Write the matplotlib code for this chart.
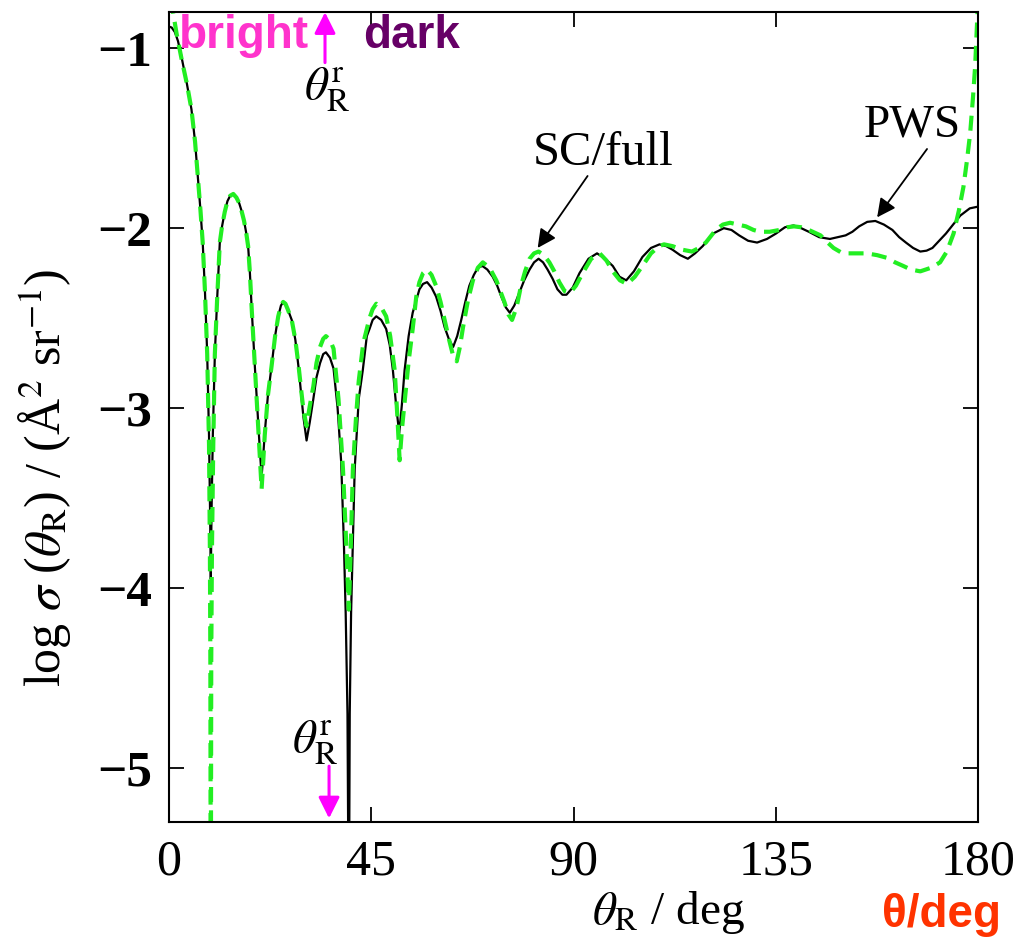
import matplotlib
matplotlib.use("Agg")
import matplotlib.pyplot as plt

plt.rcParams['font.family'] = ['Liberation Serif', 'DejaVu Serif']
plt.rcParams['mathtext.fontset'] = 'stix'

# PWS curve (black, solid)
pws_x = [0.0, 0.6, 1.3, 2.0, 2.8, 4.0, 5.0, 5.8, 6.4, 7.0, 7.5, 8.0, 8.5, 8.9, 9.15, 9.3,
         9.45, 9.75, 10.2, 10.7, 11.3, 11.8, 12.4, 13.0, 13.6, 14.3, 15.0, 15.6, 16.1, 16.7,
         17.2, 17.6, 18.0, 18.4, 19.1, 19.7, 20.2, 20.6, 21.0, 21.3, 22.0, 22.8, 23.6, 24.3,
         24.9, 25.4, 25.9, 26.4, 27.3, 28.1, 28.8, 29.4, 29.9, 30.6, 31.3, 32.1, 32.8, 33.6,
         34.3, 34.9, 35.8, 36.6, 37.5, 38.3, 38.9, 39.3, 39.7, 40.0, 40.2, 40.5, 40.9, 41.3,
         42.2, 43.1, 44.0, 44.6, 45.3, 46.1, 47.2, 48.3, 49.1, 49.8, 50.5, 51.2, 51.8, 52.4,
         53.3, 54.2, 55.7, 56.5, 57.4, 58.4, 59.4, 60.4, 61.3, 62.3, 63.2, 64.1, 65.0, 65.9,
         66.8, 67.8, 68.7, 69.7, 70.8, 72.0, 73.0, 73.9, 74.9, 75.8, 76.8, 77.9, 79.0, 80.2,
         81.2, 82.2, 83.2, 84.2, 85.3, 86.4, 87.5, 88.4, 89.8, 91.3, 93.3, 95.2, 97.0, 98.7,
         100.2, 101.7, 103.4, 105.3, 107.2, 109.1, 110.6, 112.0, 113.7, 115.4, 117.0, 118.7,
         121.0, 123.4, 125.1, 126.8, 128.8, 130.8, 133.0, 135.0, 137.0, 138.9, 140.6, 142.3,
         144.6, 147.0, 148.8, 150.5, 152.0, 153.5, 155.3, 157.1, 159.0, 160.9, 162.4, 163.9,
         165.5, 167.1, 168.5, 169.8, 171.3, 172.8, 174.4, 176.0, 178.1, 180.0]
pws_y = [-0.88, -0.885, -0.91, -0.96, -1.05, -1.20, -1.34, -1.52, -1.71, -1.90, -2.08, -2.35,
         -2.70, -3.15, -3.60, -3.95, -3.60, -3.15, -2.70, -2.40, -2.08, -1.99, -1.91, -1.85,
         -1.82, -1.81, -1.83, -1.86, -1.90, -1.96, -2.03, -2.10, -2.25, -2.45, -2.77, -3.02,
         -3.23, -3.38, -3.25, -3.14, -2.93, -2.77, -2.60, -2.49, -2.43, -2.41, -2.42, -2.45,
         -2.51, -2.62, -2.77, -2.92, -3.05, -3.18, -3.08, -2.95, -2.83, -2.75, -2.70, -2.69,
         -2.72, -2.78, -3.00, -3.30, -3.75, -4.14, -4.70, -6.00, -4.70, -4.14, -3.75, -3.34,
         -2.95, -2.79, -2.60, -2.56, -2.51, -2.49, -2.51, -2.56, -2.65, -2.79, -2.98, -3.14,
         -2.98, -2.79, -2.60, -2.47, -2.34, -2.31, -2.30, -2.33, -2.38, -2.46, -2.55, -2.62,
         -2.66, -2.60, -2.51, -2.41, -2.32, -2.26, -2.22, -2.21, -2.23, -2.27, -2.32, -2.38,
         -2.44, -2.47, -2.43, -2.36, -2.29, -2.23, -2.19, -2.17, -2.19, -2.23, -2.28, -2.34,
         -2.37, -2.37, -2.33, -2.25, -2.17, -2.14, -2.17, -2.21, -2.27, -2.29, -2.24, -2.16,
         -2.11, -2.09, -2.10, -2.12, -2.15, -2.17, -2.14, -2.10, -2.03, -2.00, -2.01, -2.04,
         -2.07, -2.08, -2.06, -2.03, -1.995, -1.985, -2.00, -2.02, -2.05, -2.06, -2.05, -2.04,
         -2.02, -1.99, -1.965, -1.96, -1.98, -2.01, -2.05, -2.08, -2.11, -2.13, -2.125, -2.11,
         -2.07, -2.03, -1.98, -1.93, -1.89, -1.88]

# SC/full curve (green, dashed)
sc_x = [0.0, 0.9, 1.7, 2.4, 2.8, 4.0, 5.0, 5.8, 6.4, 7.0, 7.5, 8.0, 8.5, 8.9, 9.1, 9.2, 9.3,
        9.4, 9.55, 9.85, 10.2, 10.7, 11.3, 11.8, 12.4, 13.0, 13.6, 14.3, 15.0, 15.6, 16.1, 16.7,
        17.2, 17.6, 18.0, 18.4, 19.1, 19.7, 20.2, 20.6, 21.0, 21.3, 22.0, 22.8, 23.6, 24.3,
        24.9, 25.4, 25.9, 26.4, 27.3, 28.1, 28.8, 29.4, 29.9, 30.6, 31.3, 32.1, 32.8, 33.6,
        34.3, 34.9, 35.8, 36.6, 37.7, 38.7, 39.5, 40.0, 40.4, 40.9, 41.6, 42.2, 43.2, 44.6,
        45.3, 46.1, 47.2, 48.3, 49.2, 50.2, 50.8, 51.3, 51.8, 52.4, 53.3, 54.2, 55.0, 55.7,
        56.5, 57.4, 58.4, 59.4, 60.4, 61.3, 62.3, 63.1, 64.0, 64.7, 65.4, 66.5, 67.6, 68.7,
        69.8, 71.3, 72.8, 73.7, 74.6, 75.5, 76.3, 77.3, 78.3, 79.2, 80.2, 81.2, 82.2, 83.4,
        84.6, 85.7, 86.8, 88.0, 89.2, 90.5, 92.0, 93.9, 95.8, 97.3, 98.7, 100.3, 101.9, 103.6,
        105.3, 107.2, 109.0, 110.1, 112.0, 114.2, 116.3, 117.9, 119.4, 121.6, 123.2, 124.8,
        126.5, 128.3, 130.0, 131.5, 133.6, 135.8, 137.5, 139.0, 140.6, 142.3, 144.9, 146.5,
        147.8, 149.5, 150.8, 153.0, 155.2, 157.5, 159.7, 161.5, 163.3, 165.0, 167.1, 169.5,
        171.5, 173.0, 174.5, 175.7, 176.7, 177.5, 178.2, 178.8, 179.3, 179.7, 180.0]
sc_y = [-0.70, -0.80, -0.92, -1.01, -1.06, -1.20, -1.34, -1.52, -1.71, -1.90, -2.08, -2.35,
        -2.70, -3.20, -3.80, -4.40, -6.00, -4.40, -3.80, -3.20, -2.70, -2.40, -2.08, -1.99,
        -1.91, -1.85, -1.82, -1.81, -1.83, -1.86, -1.90, -1.96, -2.03, -2.10, -2.25, -2.45,
        -2.77, -3.05, -3.28, -3.45, -3.28, -3.15, -2.93, -2.77, -2.60, -2.49, -2.43, -2.41,
        -2.42, -2.45, -2.51, -2.62, -2.76, -2.90, -3.01, -3.10, -2.99, -2.88, -2.75, -2.66,
        -2.615, -2.60, -2.62, -2.67, -2.95, -3.34, -3.80, -4.12, -3.80, -3.34, -3.05, -2.85,
        -2.64, -2.50, -2.45, -2.42, -2.44, -2.49, -2.60, -2.79, -3.05, -3.29, -3.12, -2.97,
        -2.74, -2.56, -2.38, -2.30, -2.25, -2.23, -2.26, -2.32, -2.41, -2.51, -2.62, -2.70,
        -2.74, -2.66, -2.55, -2.40, -2.29, -2.22, -2.19, -2.22, -2.29, -2.35, -2.41, -2.48,
        -2.51, -2.44, -2.32, -2.24, -2.17, -2.14, -2.13, -2.15, -2.19, -2.24, -2.30, -2.35,
        -2.36, -2.32, -2.25, -2.17, -2.14, -2.18, -2.24, -2.29, -2.31, -2.27, -2.21, -2.14,
        -2.10, -2.09, -2.10, -2.12, -2.13, -2.11, -2.08, -2.01, -1.98, -1.97, -1.98, -1.99,
        -2.01, -2.02, -2.02, -2.01, -1.995, -1.99, -1.995, -2.01, -2.04, -2.08, -2.11, -2.135,
        -2.14, -2.14, -2.14, -2.15, -2.165, -2.19, -2.21, -2.23, -2.24, -2.22, -2.19, -2.13,
        -2.03, -1.90, -1.77, -1.62, -1.47, -1.28, -1.10, -0.88, -0.70]

x_ticks = [0, 45, 90, 135, 180]
y_ticks = [-5, -4, -3, -2, -1]

fig = plt.figure(figsize=(10.18, 9.41), dpi=100)
ax = fig.add_axes([0.166, 0.1265, 0.795, 0.8605])

ax.plot(pws_x, pws_y, color='black', lw=1.6, solid_joinstyle='round')
ax.plot(sc_x, sc_y, color='#22ee22', lw=3.0, dashes=(3.6, 2.0))

ax.set_xlim(0, 180)
ax.set_ylim(-5.30, -0.80)
ax.set_xticks(x_ticks)
ax.set_yticks(y_ticks)
ax.set_yticklabels(['\u2212%d' % abs(v) for v in y_ticks], fontweight='bold', fontsize=37)
ax.tick_params(direction='in', length=11, width=1.3, top=True, right=True, pad=12)
ax.tick_params(axis='x', labelsize=36)
for s in ax.spines.values():
    s.set_linewidth(1.5)

ax.set_xlabel(r'$\theta_{\rm R}$ / deg', fontsize=34)
ax.xaxis.set_label_coords(0.617, -0.083)
ax.set_ylabel(r'log $\sigma$ ($\theta_{\rm R}$) / (Å$^2$ sr$^{-1}$)', fontsize=36)
ax.yaxis.set_label_coords(-0.118, 0.425)

# curve labels with arrows
arrow_kw = dict(arrowstyle='-|>', color='black', lw=1.3, mutation_scale=28,
                shrinkA=0, shrinkB=0)
ax.text(96.6, -1.58, 'SC/full', fontsize=35, ha='center', va='center')
ax.annotate('', xy=(82.0, -2.11), xytext=(93.1, -1.71), arrowprops=arrow_kw)
ax.text(165.4, -1.43, 'PWS', fontsize=34, ha='center', va='center')
ax.annotate('', xy=(157.5, -1.94), xytext=(168.6, -1.56), arrowprops=arrow_kw)

# rainbow angle markers
ax.annotate('', xy=(34.7, -0.80), xytext=(34.7, -1.08),
            arrowprops=dict(arrowstyle='-|>', color='#ff00ff', lw=2.2,
                            mutation_scale=32, shrinkA=0, shrinkB=0),
            annotation_clip=False)
ax.text(35.3, -1.23, r'$\theta_{\rm R}^{\rm r}$', fontsize=34, ha='center', va='center')
ax.annotate('', xy=(35.6, -5.28), xytext=(35.6, -4.99),
            arrowprops=dict(arrowstyle='-|>', color='#ff00ff', lw=2.2,
                            mutation_scale=32, shrinkA=0, shrinkB=0))
ax.text(32.6, -4.86, r'$\theta_{\rm R}^{\rm r}$', fontsize=34, ha='center', va='center')

ax.text(16.7, -0.93, 'bright', fontsize=33, fontweight='bold', color='#ff33cc',
        family=['Liberation Sans', 'DejaVu Sans'], ha='center', va='center')
ax.text(54.0, -0.93, 'dark', fontsize=33, fontweight='bold', color='#660066',
        family=['Liberation Sans', 'DejaVu Sans'], ha='center', va='center')

fig.text(0.925, 0.028, '\u03b8/deg', fontsize=33, fontweight='bold', color='#ff3300',
         family=['Liberation Sans', 'DejaVu Sans'], ha='center', va='center')

fig.savefig('out.png', dpi=100)
